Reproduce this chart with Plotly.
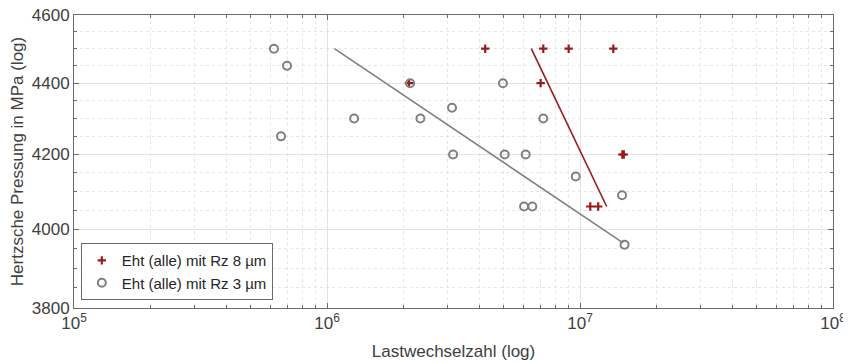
import plotly.graph_objects as go

# Eht (alle) mit Rz 8 µm
rz8_n = [4.22e6, 7.16e6, 9.02e6, 1.354e7, 6.99e6, 2.11e6, 1.47e7, 1.49e7, 1.098e7, 1.18e7]
rz8_p = [4500, 4500, 4500, 4500, 4400, 4400, 4200, 4200, 4060, 4060]

# Eht (alle) mit Rz 3 µm
rz3_n = [6.17e5, 6.95e5, 6.58e5, 1.28e6, 2.13e6, 2.34e6, 3.12e6, 3.15e6, 4.96e6,
         5.04e6, 6.10e6, 7.16e6, 9.62e6, 6.01e6, 6.48e6, 1.466e7, 1.50e7]
rz3_p = [4500, 4450, 4250, 4300, 4400, 4300, 4330, 4200, 4400,
         4200, 4200, 4300, 4140, 4060, 4060, 4090, 3960]

# fit lines (end points)
fit8_n = [6.42e6, 1.275e7]
fit8_p = [4500, 4060]
fit3_n = [1.07e6, 1.48e7]
fit3_p = [4500, 3965]

x_major = [1e5, 1e6, 1e7, 1e8]
x_major_text = ["10<sup>5</sup>", "10<sup>6</sup>", "10<sup>7</sup>", "10<sup>8</sup>"]
x_minor = [m * 10 ** e for e in (5, 6, 7) for m in range(2, 10)]
y_major = [3800, 4000, 4200, 4400, 4600]
y_minor = [3850, 3900, 3950, 4050, 4100, 4150, 4250, 4300, 4350, 4450, 4500, 4550]

RED = "#9a1b1b"
GRAY = "#808080"
AX = "#6b6b6b"
TXT = "#404040"
FONT = "Liberation Sans, Arial, sans-serif"

fig = go.Figure()
fig.add_trace(go.Scatter(x=fit3_n, y=fit3_p, mode="lines", line=dict(color=GRAY, width=1.6),
                         showlegend=False, hoverinfo="skip"))
fig.add_trace(go.Scatter(x=fit8_n, y=fit8_p, mode="lines", line=dict(color=RED, width=1.6),
                         showlegend=False, hoverinfo="skip"))
fig.add_trace(go.Scatter(x=rz8_n, y=rz8_p, mode="markers", name="Eht (alle) mit Rz 8 µm",
                         marker=dict(symbol="cross-thin", size=6, color=RED,
                                     line=dict(color=RED, width=2.2))))
fig.add_trace(go.Scatter(x=rz3_n, y=rz3_p, mode="markers", name="Eht (alle) mit Rz 3 µm",
                         marker=dict(symbol="circle-open", size=8, color=GRAY,
                                     line=dict(color=GRAY, width=2))))

axis_common = dict(
    showline=True, linecolor=AX, linewidth=1, mirror="ticks",
    ticks="inside", ticklen=5, tickcolor=AX,
    showgrid=True, gridcolor="#e3e3e3", gridwidth=1,
    zeroline=False, automargin=False, ticklabeloverflow="allow",
    tickfont=dict(family=FONT, size=17, color=TXT),
)

fig.update_xaxes(
    type="log", range=[5, 8],
    tickmode="array", tickvals=x_major, ticktext=x_major_text,
    title=dict(text="Lastwechselzahl (log)", font=dict(family=FONT, size=17, color=TXT), standoff=12),
    minor=dict(tickmode="array", tickvals=x_minor, ticks="inside", ticklen=3, tickcolor=AX,
               showgrid=True, gridcolor="#e6e6e6", griddash="dot", gridwidth=1),
    **axis_common,
)
fig.update_yaxes(
    type="log", range=[3.5797836, 3.6627578],
    tickmode="array", tickvals=y_major, ticktext=[str(v) for v in y_major],
    title=dict(text="Hertzsche Pressung in MPa (log)", font=dict(family=FONT, size=17, color=TXT), standoff=4),
    minor=dict(tickmode="array", tickvals=y_minor, ticks="inside", ticklen=3, tickcolor=AX,
               showgrid=True, gridcolor="#e6e6e6", griddash="dot", gridwidth=1),
    **axis_common,
)

# the page body has an 8px default margin, so the figure is 8px smaller
fig.update_layout(
    width=843, height=355,
    margin=dict(l=66, r=18, t=7, b=55),
    paper_bgcolor="white", plot_bgcolor="white",
    font=dict(family=FONT, color=TXT),
    legend=dict(x=0.009, y=0.027, xanchor="left", yanchor="bottom",
                bgcolor="white", bordercolor=AX, borderwidth=1,
                font=dict(family=FONT, size=15, color="#262626"),
                itemwidth=30, tracegroupgap=0),
)

fig.write_html("out.html")
